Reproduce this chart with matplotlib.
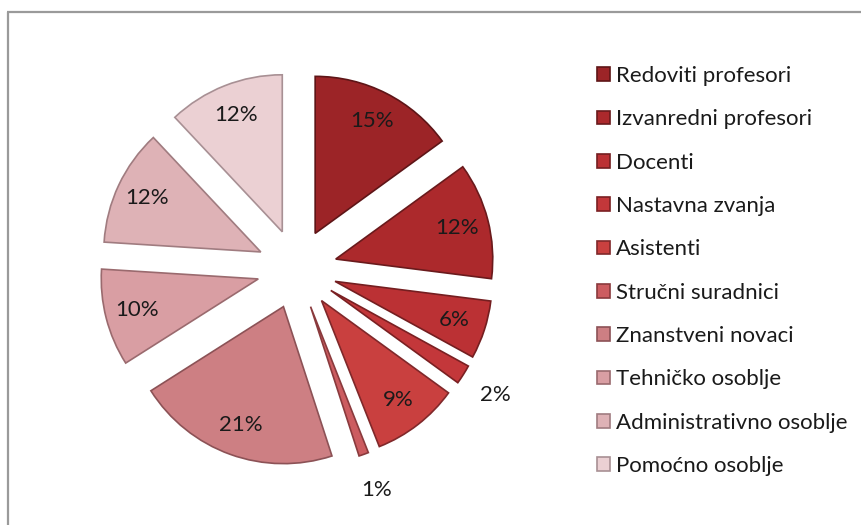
import math
import matplotlib
matplotlib.use("Agg")
import matplotlib.pyplot as plt

categories = ["Redoviti profesori", "Izvanredni profesori", "Docenti", "Nastavna zvanja",
              "Asistenti", "Stručni suradnici", "Znanstveni novaci", "Tehničko osoblje",
              "Administrativno osoblje", "Pomoćno osoblje"]
values = [15, 12, 6, 2, 9, 1, 21, 10, 12, 12]
colors = ["#9c2427", "#ac292c", "#bb3134", "#c3373a", "#c9403f", "#cc5c60",
          "#cd7f83", "#d99ea3", "#deb2b6", "#ebd0d3"]
edge_colors = ["#5e1517", "#6a1a1c", "#741e20", "#7a2022", "#80282a", "#8a3a3d",
               "#8c5256", "#9a6a6e", "#a07c80", "#a89094"]

plt.rcParams['font.family'] = ['Lato', 'DejaVu Sans']

W, H = 861, 525
fig = plt.figure(figsize=(W / 100, H / 100), dpi=100)
ax = fig.add_axes([0, 0, 1, 1])

R = 157
cx, cy = 297, H - 269
wedges, texts, autotexts = ax.pie(
    values, colors=colors, explode=[40] * len(values), radius=R, center=(cx, cy),
    startangle=90, counterclock=False,
    autopct=lambda p: f"{p:.0f}%", pctdistance=0.8,
    wedgeprops=dict(linewidth=1.2),
    textprops=dict(fontsize=16, color="#1a1a1a"))
for w, ec in zip(wedges, edge_colors):
    w.set_edgecolor(ec)

for w, t, v in zip(wedges, autotexts, values):
    if v < 3:
        thm = math.radians((w.theta1 + w.theta2) / 2)
        x0, y0 = w.center
        t.set_position((x0 + 1.24 * R * math.cos(thm), y0 + 1.24 * R * math.sin(thm)))

ax.set_xlim(0, W)
ax.set_ylim(0, H)
ax.set_aspect('equal')
ax.axis('off')

leg = ax.legend(wedges, categories, loc='upper left', bbox_to_anchor=(597, H - 66),
                bbox_transform=ax.transData, frameon=False, fontsize=16,
                handlelength=0.59, handleheight=0.59, handletextpad=0.28,
                labelspacing=1.05, borderpad=0, borderaxespad=0)
for t in leg.get_texts():
    t.set_color("#1a1a1a")

# outer frame (top and left edges visible)
ax.plot([7, W], [H - 12, H - 12], color="#9a9a9a", linewidth=1.6, solid_capstyle='butt')
ax.plot([8, 8], [0, H - 12], color="#9a9a9a", linewidth=1.6, solid_capstyle='butt')

fig.savefig("out.png", dpi=100)
